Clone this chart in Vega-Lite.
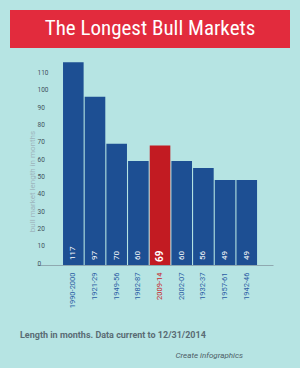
{
  "$schema": "https://vega.github.io/schema/vega-lite/v6.json",
  "background": "#b6e4e3",
  "padding": {"left": 10, "top": 10, "right": 10, "bottom": 8},
  "spacing": 9,
  "title": {"text": "Create infographics", "orient": "bottom", "anchor": "end", "fontSize": 8, "fontStyle": "italic", "fontWeight": "normal", "color": "#4d5d66", "font": "Roboto", "dx": -47, "offset": 12},
  "datasets": {
    "bull": [
      {"period": "1990-2000", "months": 117},
      {"period": "1921-29", "months": 97},
      {"period": "1949-56", "months": 70},
      {"period": "1982-87", "months": 60},
      {"period": "2009-14", "months": 69},
      {"period": "2002-07", "months": 60},
      {"period": "1932-37", "months": 56},
      {"period": "1957-61", "months": 49},
      {"period": "1942-46", "months": 49}
    ]
  },
  "config": {
    "font": "Roboto",
    "view": {"stroke": null},
    "axisY": {
      "domain": false,
      "ticks": false,
      "tickSize": 0,
      "grid": false,
      "labelOverlap": false,
      "labelAlign": "left",
      "labelBaseline": "middle",
      "labelOffset": -2,
      "labelPadding": -27,
      "labelFontSize": 6.5,
      "labelColor": "#41525b",
      "titleFontSize": 8,
      "titleColor": "#9db4bc",
      "titleFontWeight": "normal",
      "titleX": 26,
      "titleY": 124
    }
  },
  "vconcat": [
    {
      "width": 280,
      "height": 38,
      "view": {"fill": "#e22b3d", "stroke": null},
      "data": {"values": [{"title": "The Longest Bull Markets"}]},
      "mark": {"type": "text", "color": "white", "fontSize": 21, "font": "Liberation Sans Narrow, Roboto Condensed, DejaVu Sans Condensed, Roboto", "align": "center", "baseline": "middle"},
      "encoding": {"text": {"field": "title"}}
    },
    {
      "width": 280,
      "height": 208,
      "data": {"name": "bull"},
      "title": {"text": "Length in months. Data current to 12/31/2014", "orient": "bottom", "anchor": "start", "dx": 10, "fontSize": 9, "fontWeight": "bold", "font": "Liberation Sans Narrow, Roboto", "color": "#5a6c74", "offset": 23},
      "encoding": {
        "x": {
          "field": "period",
          "type": "nominal",
          "sort": null,
          "scale": {"range": [27, 263], "paddingInner": 0.05, "paddingOuter": 0.968, "align": 0.62},
          "axis": {
            "title": null,
            "domain": true,
            "domainColor": "#8fa9b0",
            "ticks": false,
            "tickSize": 0,
            "labelAngle": -90,
            "labelAlign": "right",
            "labelBaseline": "middle",
            "labelPadding": 7,
            "labelFontSize": 7.5,
            "labelColor": {"condition": {"test": "datum.value === '2009-14'", "value": "#c8232a"}, "value": "#2b5da3"}
          }
        }
      },
      "layer": [
        {
          "mark": {"type": "bar"},
          "encoding": {
            "y": {
              "field": "months",
              "type": "quantitative",
              "scale": {"domain": [0, 120], "nice": false},
              "axis": {"title": "bull market length in months", "values": [0, 10, 20, 30, 40, 50, 60, 70, 80, 90, 100, 110]}
            },
            "color": {"condition": {"test": "datum.period === '2009-14'", "value": "#c21b22"}, "value": "#1d4f93"}
          }
        },
        {
          "transform": [{"filter": "datum.period !== '2009-14'"}],
          "mark": {"type": "text", "angle": 270, "align": "left", "baseline": "middle", "dx": 5, "color": "white", "fontSize": 8},
          "encoding": {
            "y": {"datum": 0, "type": "quantitative", "axis": {"title": "bull market length in months", "values": [0, 10, 20, 30, 40, 50, 60, 70, 80, 90, 100, 110]}},
            "text": {"field": "months"}
          }
        },
        {
          "transform": [{"filter": "datum.period === '2009-14'"}],
          "mark": {"type": "text", "angle": 270, "align": "left", "baseline": "middle", "dx": 3, "color": "white", "fontSize": 10, "fontWeight": "bold"},
          "encoding": {
            "y": {"datum": 0, "type": "quantitative", "axis": {"title": "bull market length in months", "values": [0, 10, 20, 30, 40, 50, 60, 70, 80, 90, 100, 110]}},
            "text": {"field": "months"}
          }
        }
      ]
    }
  ]
}
